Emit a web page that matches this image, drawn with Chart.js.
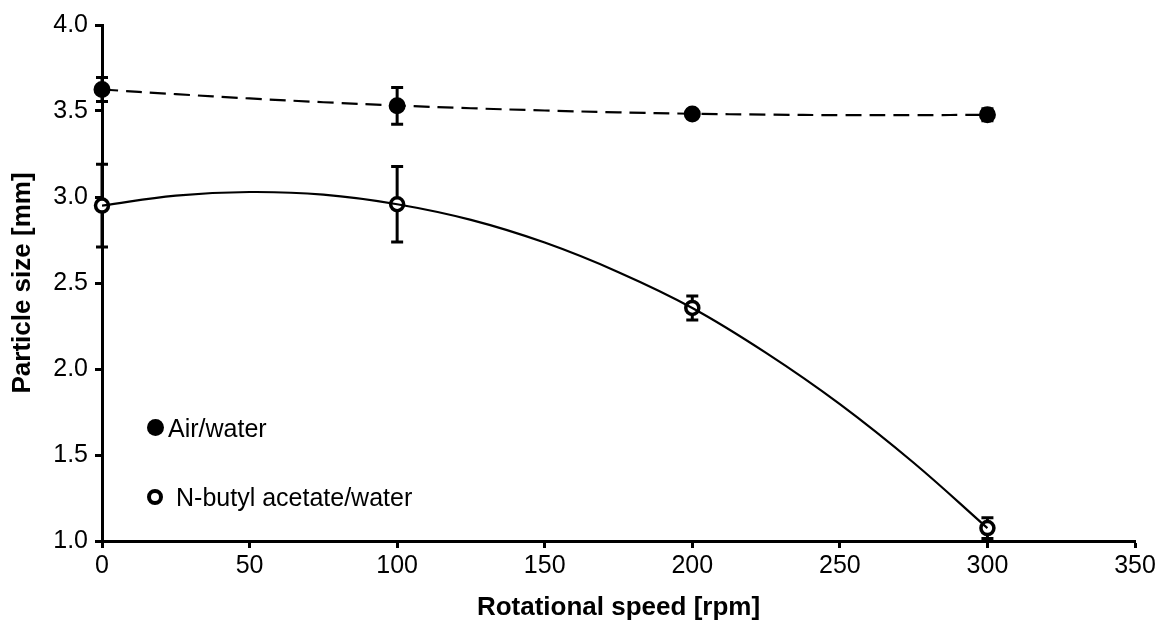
<!DOCTYPE html>
<html>
<head>
<meta charset="utf-8">
<script src="https://cdn.jsdelivr.net/npm/chart.js@4/dist/chart.umd.min.js"></script>
<style>
  html, body { margin: 0; padding: 0; background: #fff; }
  #wrap { position: relative; width: 1170px; height: 626px; }
  .legend-item {
    position: absolute;
    font-family: 'Liberation Sans', Arial, sans-serif;
    font-size: 25px;
    color: #000;
    line-height: 30px;
    white-space: nowrap;
  }
  .legend-item .mark {
    position: absolute;
    box-sizing: border-box;
    border-radius: 50%;
  }
</style>
</head>
<body>
<div id="wrap">
  <canvas id="sizeChart" width="1170" height="626"></canvas>
  <div class="legend-item" style="left:168px; top:413px;"><span class="mark" style="left:-21px; top:6px; width:17px; height:17px; background:#000;"></span>Air/water</div>
  <div class="legend-item" style="left:176px; top:482px;"><span class="mark" style="left:-29px; top:7px; width:16px; height:16px; border:4px solid #000; background:#fff;"></span>N-butyl acetate/water</div>
</div>
<script>
// Rotational speed [rpm] of the measured points
const speeds = [0, 100, 200, 300];

// Air/water: mean particle size and error
const airSize = [3.625, 3.53, 3.482, 3.478];
const airErr = [0.07, 0.107, 0.01, 0.035];

// N-butyl acetate/water: mean particle size and error
const butylSize = [2.95, 2.958, 2.355, 1.075];
const butylErr = [0.24, 0.22, 0.07, 0.06];

// Trendlines
const trendSpeeds = [0, 25, 50, 75, 100, 125, 150, 175, 200, 225, 250, 275, 300];
const airTrend = [3.625, 3.598, 3.573, 3.551, 3.532, 3.516, 3.503, 3.492, 3.484, 3.479, 3.476, 3.476, 3.478];
const butylTrend = [2.95, 3.008, 3.029, 3.014, 2.958, 2.867, 2.735, 2.563, 2.355, 2.094, 1.796, 1.455, 1.075];

const FONT = "'Liberation Sans', Arial, sans-serif";

const toXY = (xs, ys) => xs.map((x, i) => ({ x: x, y: ys[i] }));

// Vertical error bars with caps, drawn under the markers
const errorBars = {
  id: 'errorBars',
  beforeDatasetsDraw(chart) {
    const { ctx, scales: { x, y } } = chart;
    ctx.save();
    ctx.strokeStyle = '#000';
    ctx.lineWidth = 3;
    [[airSize, airErr], [butylSize, butylErr]].forEach(([vals, errs]) => {
      speeds.forEach((s, i) => {
        const px = x.getPixelForValue(s);
        const top = y.getPixelForValue(vals[i] + errs[i]);
        const bot = y.getPixelForValue(vals[i] - errs[i]);
        ctx.beginPath();
        ctx.moveTo(px, top); ctx.lineTo(px, bot);
        ctx.moveTo(px - 6, top); ctx.lineTo(px + 6, top);
        ctx.moveTo(px - 6, bot); ctx.lineTo(px + 6, bot);
        ctx.stroke();
      });
    });
    ctx.restore();
  }
};

const axisStyle = {
  grid: {
    display: true,
    drawOnChartArea: false,
    drawTicks: true,
    tickLength: 7,
    tickWidth: 3,
    tickColor: '#000'
  },
  border: { display: true, color: '#000', width: 3 }
};

new Chart(document.getElementById('sizeChart'), {
  type: 'line',
  data: {
    datasets: [
      {
        label: 'Air/water trend',
        data: toXY(trendSpeeds, airTrend),
        borderColor: '#000',
        borderWidth: 2.2,
        borderDash: [16, 8],
        pointRadius: 0,
        tension: 0.4,
        fill: false,
        order: 0
      },
      {
        label: 'N-butyl acetate/water trend',
        data: toXY(trendSpeeds, butylTrend),
        borderColor: '#000',
        borderWidth: 2.2,
        pointRadius: 0,
        tension: 0.4,
        fill: false,
        order: 0
      },
      {
        label: 'Air/water',
        data: toXY(speeds, airSize),
        showLine: false,
        pointRadius: 7,
        pointBorderWidth: 3,
        pointBackgroundColor: '#000',
        pointBorderColor: '#000',
        clip: false,
        order: 1
      },
      {
        label: 'N-butyl acetate/water',
        data: toXY(speeds, butylSize),
        showLine: false,
        pointRadius: 6.5,
        pointBorderWidth: 3.5,
        pointBackgroundColor: '#fff',
        pointBorderColor: '#000',
        clip: false,
        order: 1
      }
    ]
  },
  options: {
    responsive: false,
    animation: false,
    events: [],
    layout: { padding: { top: 25, right: 35, bottom: 0, left: 0 } },
    plugins: {
      legend: { display: false },
      tooltip: { enabled: false }
    },
    scales: {
      x: {
        type: 'linear',
        min: 0,
        max: 350,
        ...axisStyle,
        ticks: {
          stepSize: 50,
          padding: 3,
          color: '#000',
          font: { family: FONT, size: 25 }
        },
        title: {
          display: true,
          text: 'Rotational speed [rpm]',
          color: '#000',
          font: { family: FONT, size: 26, weight: 'bold' },
          padding: { top: 0, bottom: 3 }
        },
        afterFit: s => { s.height = 85; }
      },
      y: {
        type: 'linear',
        min: 1,
        max: 4,
        ...axisStyle,
        ticks: {
          stepSize: 0.5,
          padding: 7,
          color: '#000',
          font: { family: FONT, size: 25 },
          callback: v => v.toFixed(1)
        },
        title: {
          display: true,
          text: 'Particle size [mm]',
          color: '#000',
          font: { family: FONT, size: 26, weight: 'bold' },
          padding: { top: 7, bottom: 0 }
        },
        afterFit: s => { s.width = 102; }
      }
    }
  },
  plugins: [errorBars]
});
</script>
</body>
</html>
